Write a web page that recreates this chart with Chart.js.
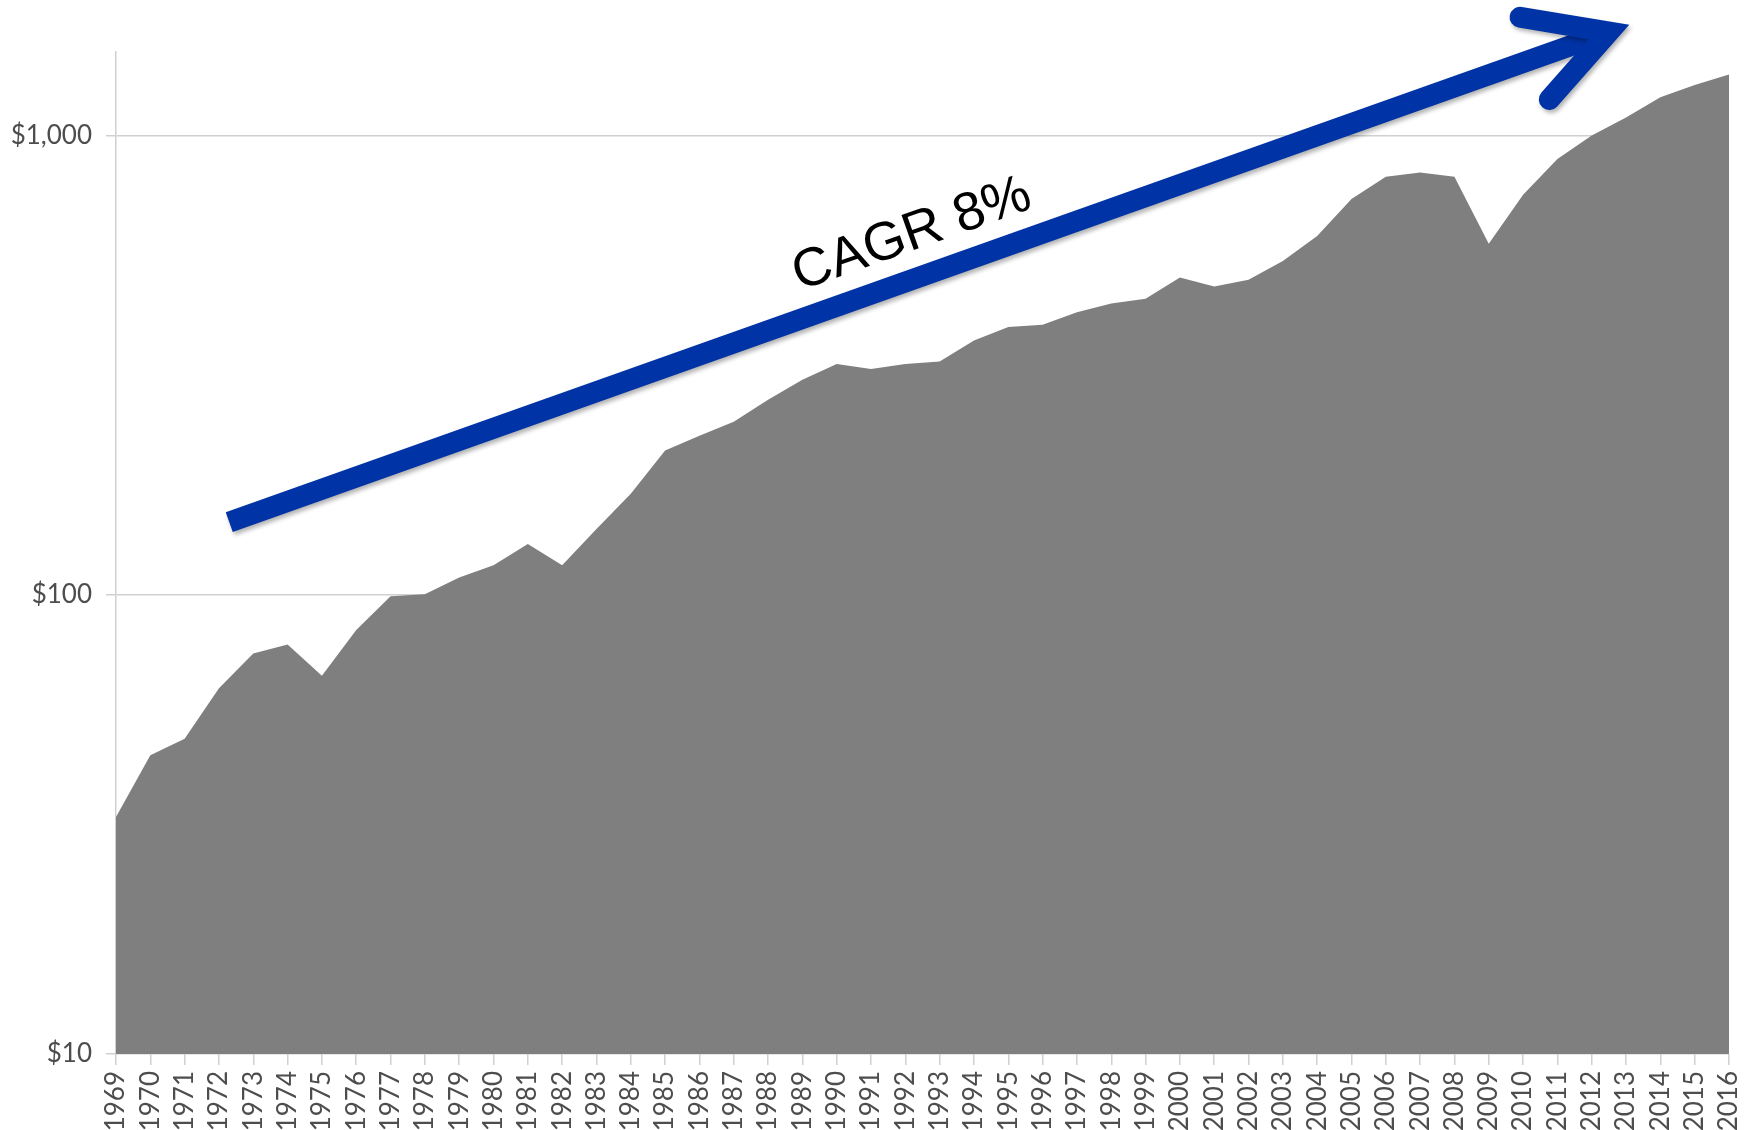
<!DOCTYPE html>
<html>
<head>
<meta charset="utf-8">
<script src="https://cdn.jsdelivr.net/npm/chart.js@4/dist/chart.umd.min.js"></script>
<style>
    body { margin: 0; background: #fff; }
    #wrap { width: 1754px; height: 1130px; }
</style>
</head>
<body>
<div id="wrap"><canvas id="growthChart" width="1754" height="1130"></canvas></div>
<script>
// years on the x axis
const years = [];
for (let y = 1969; y <= 2016; y++) years.push(String(y));

// value per year
const values = [
    32.8, 44.7, 48.6, 62.6, 74.5, 77.9, 66.6, 83.8, 99.2, 100.3,
    109, 116, 129, 116, 139, 166, 206, 222, 238, 266,
    294, 318, 310, 318, 322, 358, 383, 387, 412, 431,
    441, 491, 469, 485, 533, 604, 727, 813, 831, 813,
    581, 743, 889, 1000, 1094, 1211, 1288, 1358
];

const yTicks = [10, 100, 1000];

// arrow annotation, in (year, value) units
const arrowStart = { year: 1972.3, value: 144 };
const arrowEnd = { year: 2012.5, value: 1680 };
const arrowLabel = 'CAGR 8%';

const arrowPlugin = {
    id: 'cagrArrow',
    afterDraw(chart) {
        const ctx = chart.ctx;
        const xs = chart.scales.x, ys = chart.scales.y;
        const x0 = xs.getPixelForValue(arrowStart.year - 1969);
        const y0 = ys.getPixelForValue(arrowStart.value);
        const x1 = xs.getPixelForValue(arrowEnd.year - 1969);
        const y1 = ys.getPixelForValue(arrowEnd.value);
        const ang = Math.atan2(y1 - y0, x1 - x0);
        const blue = '#0033a6';

        ctx.save();
        ctx.shadowColor = 'rgba(0,0,0,0.3)';
        ctx.shadowBlur = 4;
        ctx.shadowOffsetX = 2;
        ctx.shadowOffsetY = 3;
        ctx.strokeStyle = blue;
        ctx.lineWidth = 21;

        // shaft
        ctx.lineCap = 'butt';
        ctx.beginPath();
        ctx.moveTo(x0, y0);
        ctx.lineTo(x1 - 12 * Math.cos(ang), y1 - 12 * Math.sin(ang));
        ctx.stroke();

        // head
        const headLen = 90, spread = 29 * Math.PI / 180;
        const back = ang + Math.PI;
        ctx.lineCap = 'round';
        ctx.lineJoin = 'miter';
        ctx.miterLimit = 10;
        ctx.beginPath();
        ctx.moveTo(x1 + headLen * Math.cos(back + spread), y1 + headLen * Math.sin(back + spread));
        ctx.lineTo(x1, y1);
        ctx.lineTo(x1 + headLen * Math.cos(back - spread), y1 + headLen * Math.sin(back - spread));
        ctx.stroke();
        ctx.restore();

        // label above the shaft
        const t = 0.505, off = 42;
        const tx = x0 + (x1 - x0) * t + off * Math.sin(ang);
        const ty = y0 + (y1 - y0) * t - off * Math.cos(ang);
        ctx.save();
        ctx.translate(tx, ty);
        ctx.rotate(ang);
        ctx.font = '54px "Liberation Sans", Arial, sans-serif';
        ctx.fillStyle = '#000';
        ctx.textAlign = 'center';
        ctx.textBaseline = 'middle';
        ctx.fillText(arrowLabel, 0, 0);
        ctx.restore();
    }
};

const tickFont = { family: 'Lato, "Open Sans", sans-serif', size: 26 };

new Chart(document.getElementById('growthChart'), {
    type: 'line',
    data: {
        labels: years,
        datasets: [{
            data: values,
            fill: 'start',
            backgroundColor: '#7f7f7f',
            borderWidth: 0,
            pointRadius: 0,
            tension: 0
        }]
    },
    options: {
        responsive: false,
        animation: false,
        devicePixelRatio: 1,
        layout: { padding: { top: 52, right: 25, left: 0, bottom: 0 } },
        plugins: { legend: { display: false }, tooltip: { enabled: false } },
        scales: {
            x: {
                type: 'category',
                offset: false,
                grid: { drawOnChartArea: false, drawTicks: true, tickLength: 11, color: '#d0d0d0', lineWidth: 1.5 },
                border: { display: false },
                ticks: {
                    color: '#4d4d4d',
                    font: tickFont,
                    minRotation: 90,
                    maxRotation: 90,
                    autoSkip: false,
                    padding: 6
                },
                afterFit(scale) {
                    scale.height = 76;
                    scale.paddingLeft = 0;
                    scale.paddingRight = 0;
                }
            },
            y: {
                type: 'logarithmic',
                min: 10,
                max: 1520,
                afterBuildTicks(scale) { scale.ticks = yTicks.map(v => ({ value: v })); },
                grid: { color: '#d0d0d0', lineWidth: 1.5, tickLength: 10 },
                border: { color: '#d0d0d0', width: 1.5 },
                ticks: {
                    color: '#4d4d4d',
                    font: tickFont,
                    padding: 14,
                    callback: (v) => '$' + Number(v).toLocaleString('en-US')
                },
                afterFit(scale) { scale.width = 116; }
            }
        }
    },
    plugins: [arrowPlugin]
});
</script>
</body>
</html>
